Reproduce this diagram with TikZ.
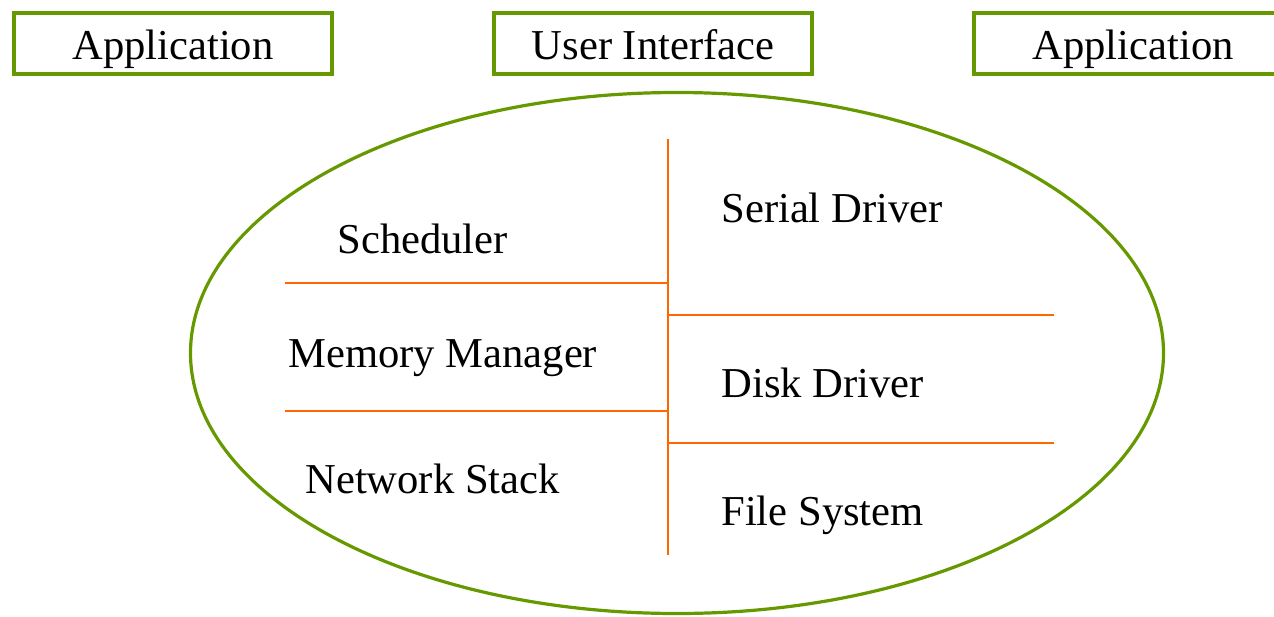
\documentclass[tikz,border=0pt]{standalone}
\usepackage{fontspec}
\setmainfont{Liberation Serif}
\usepackage{xcolor}
\usetikzlibrary{positioning}

\definecolor{kgreen}{HTML}{669900}
\definecolor{korange}{HTML}{FF6600}

\begin{document}
\begin{tikzpicture}[x=0.5pt, y=-0.5pt, font=\fontsize{21.3pt}{25pt}\selectfont]
    \tikzstyle{block} = [rectangle, draw=kgreen, line width=2pt, minimum width=159pt, minimum height=30.5pt, inner sep=0pt, text height=20pt, text depth=4pt]
    \tikzstyle{part} = [anchor=base west, inner sep=0pt]
    \tikzstyle{divider} = [draw=korange, line width=1.1pt]
    \useasboundingbox (0,0) rectangle (1274,616);

    % top row
    \node [block] (app1) at (173,43.5) {Application};
    \node [block, right=79pt of app1] (ui) {User Interface};
    \node [block, right=79pt of ui] (app2) {Application};

    % kernel
    \draw [kgreen, line width=1.6pt] (677,353) ellipse [x radius=243.25pt, y radius=130.25pt];

    \coordinate (top) at (668,139);
    \coordinate (bot) at (668,555);
    \coordinate (l1) at (285,283);
    \coordinate (m1) at (668,283);
    \coordinate (l2) at (285,411);
    \coordinate (m2) at (668,411);
    \coordinate (m3) at (668,315);
    \coordinate (r3) at (1054,315);
    \coordinate (m4) at (668,443);
    \coordinate (r4) at (1054,443);

    \path [divider] (top) -- (bot);
    \path [divider] (l1) -- (m1);
    \path [divider] (l2) -- (m2);
    \path [divider] (m3) -- (r3);
    \path [divider] (m4) -- (r4);

    \node [part] (sched) at (337,253) {Scheduler};
    \node [part] (mem) at (288,367) {Memory Manager};
    \node [part] (net) at (305,493) {Network Stack};
    \node [part] (serial) at (721,222) {Serial Driver};
    \node [part] (disk) at (721,397) {Disk Driver};
    \node [part] (fs) at (721,525) {File System};
\end{tikzpicture}
\end{document}
